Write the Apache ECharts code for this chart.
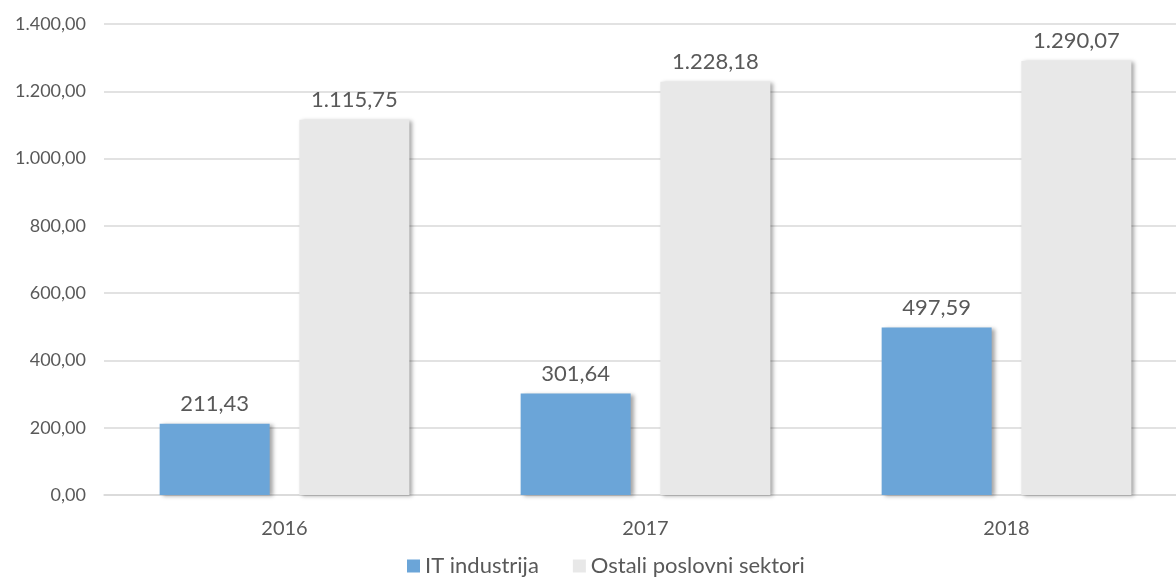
<!DOCTYPE html>
<html lang="hr">
<head>
    <meta charset="UTF-8">
    <title>IT industrija i ostali poslovni sektori</title>
    <script src="https://cdn.jsdelivr.net/npm/echarts@6/dist/echarts.min.js"></script>
    <style>
        html, body { margin: 0; padding: 0; background: #fff; }
        #chart { width: 1176px; height: 579px; }
    </style>
</head>
<body>
    <div id="chart"></div>
    <script>
        var years = ['2016', '2017', '2018'];
        var itValues = [211.43, 301.64, 497.59];
        var otherValues = [1115.75, 1228.18, 1290.07];
        var seriesNames = ['IT industrija', 'Ostali poslovni sektori'];

        // hr format: 1.234,56
        function fmt(v) {
            var parts = v.toFixed(2).split('.');
            var intPart = parts[0].replace(/\B(?=(\d{3})+(?!\d))/g, '.');
            return intPart + ',' + parts[1];
        }

        var textColor = '#595959';
        var font = 'Lato, sans-serif';

        var chart = echarts.init(document.getElementById('chart'));

        var barShadow = {
            shadowColor: 'rgba(0,0,0,0.35)',
            shadowBlur: 4,
            shadowOffsetX: 3,
            shadowOffsetY: 1
        };

        chart.setOption({
            animation: false,
            textStyle: { fontFamily: font },
            grid: { left: 104, top: 24, width: 1083, bottom: 84, outerBoundsMode: 'none' },
            legend: {
                top: 550,
                left: 402,
                itemWidth: 13,
                itemHeight: 13,
                itemGap: 34,
                icon: 'rect',
                textStyle: { color: textColor, fontSize: 22, fontFamily: font },
                data: seriesNames
            },
            xAxis: {
                type: 'category',
                data: years,
                axisLine: { lineStyle: { color: '#d9d9d9', width: 1.5 } },
                axisTick: { show: false },
                axisLabel: { color: textColor, fontSize: 20, margin: 24 }
            },
            yAxis: {
                type: 'value',
                min: 0,
                max: 1400,
                interval: 200,
                axisLine: { show: false },
                axisTick: { show: false },
                splitLine: { lineStyle: { color: '#d9d9d9', width: 1.5 } },
                axisLabel: {
                    color: textColor,
                    fontSize: 18,
                    margin: 18,
                    formatter: function (v) { return fmt(v); }
                }
            },
            series: [
                {
                    name: seriesNames[0],
                    type: 'bar',
                    data: itValues,
                    barWidth: 110,
                    barGap: '27%',
                    itemStyle: Object.assign({ color: '#6ba5d8' }, barShadow),
                    label: {
                        show: true,
                        position: 'top',
                        distance: 9,
                        color: textColor,
                        fontSize: 22,
                        formatter: function (p) { return fmt(p.value); }
                    }
                },
                {
                    name: seriesNames[1],
                    type: 'bar',
                    data: otherValues,
                    barWidth: 110,
                    itemStyle: Object.assign({ color: '#e8e8e8' }, barShadow),
                    label: {
                        show: true,
                        position: 'top',
                        distance: 9,
                        color: textColor,
                        fontSize: 22,
                        formatter: function (p) { return fmt(p.value); }
                    }
                }
            ]
        });
    </script>
</body>
</html>
